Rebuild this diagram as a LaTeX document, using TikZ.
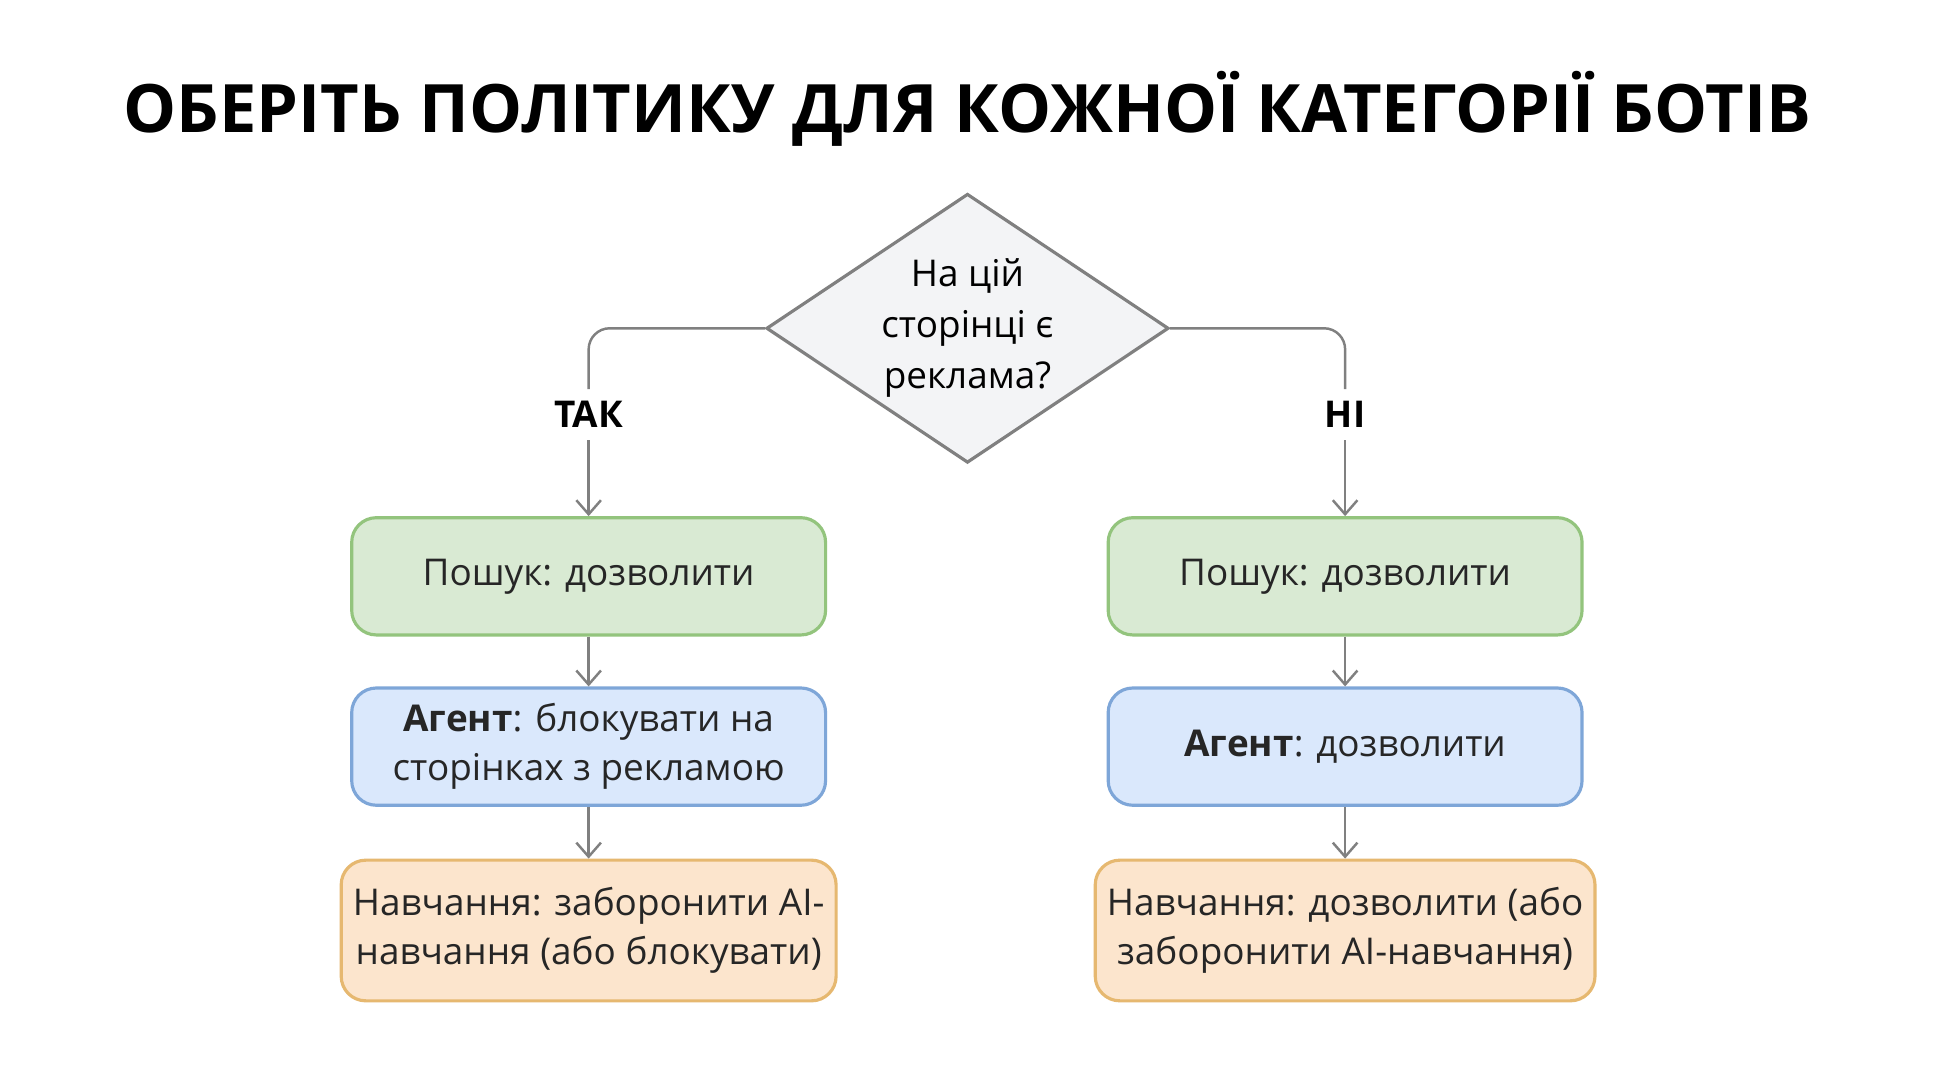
\documentclass[tikz,border=0pt]{standalone}
\usepackage{fontspec}
\setmainfont{Open Sans}
\usetikzlibrary{shapes.geometric,arrows.meta}
\definecolor{gfill}{HTML}{D9EAD3}\definecolor{gdraw}{HTML}{93C47D}
\definecolor{bfill}{HTML}{DAE8FC}\definecolor{bdraw}{HTML}{7EA6D8}
\definecolor{ofill}{HTML}{FCE5CD}\definecolor{odraw}{HTML}{E6B870}
\definecolor{dfill}{HTML}{F3F4F6}\definecolor{ln}{HTML}{808080}
\begin{document}
\begin{tikzpicture}[x=0.01234cm,y=-0.01234cm,
 box/.style={rounded corners=7pt,line width=0.9pt,minimum width=384*0.01234cm,align=center,font=\fontsize{10.5}{14}\selectfont,text=black!85},
 g/.style={box,fill=gfill,draw=gdraw,minimum height=95*0.01234cm},
 b/.style={box,fill=bfill,draw=bdraw,minimum height=95*0.01234cm},
 o/.style={box,fill=ofill,draw=odraw,minimum height=114*0.01234cm},
 arr/.style={draw=ln,line width=0.7pt,-{Straight Barb[length=4pt,width=7pt]}},
 lnk/.style={draw=ln,line width=0.7pt,rounded corners=6pt},
 lab/.style={font=\bfseries\fontsize{10.5}{12}\selectfont}]
\useasboundingbox (0,0) rectangle (1568,875);
\fill[white] (0,0) rectangle (1568,875);
\node[font=\bfseries\fontsize{19}{22}\selectfont] (t) at (784,88) {ОБЕРІТЬ ПОЛІТИКУ ДЛЯ КОЖНОЇ КАТЕГОРІЇ БОТІВ};
\node[diamond,draw=ln,fill=dfill,line width=0.9pt,minimum width=326*0.01234cm,minimum height=218*0.01234cm,inner sep=0pt,align=center,font=\fontsize{10.5}{14}\selectfont] (d) at (784,266) {};
\node[align=center,font=\fontsize{10.5}{14.5}\selectfont] at (784,266) {На цій\\сторінці є\\реклама?};
\node[lab] (tak) at (477,336) {ТАК};
\node[lab] (ni) at (1090,336) {НІ};
\node[g] (l1) at (477,467) {Пошук: дозволити};
\node[b] (l2) at (477,605) {\textbf{Агент}: блокувати на\\сторінках з рекламою};
\node[o] (l3) at (477,754) {Навчання: заборонити AI-\\навчання (або блокувати)};
\node[g] (r1) at (1090,467) {Пошук: дозволити};
\node[b] (r2) at (1090,605) {\textbf{Агент}: дозволити};
\node[o] (r3) at (1090,754) {Навчання: дозволити (або\\заборонити AI-навчання)};
\draw[lnk] (d.west) -| (tak.north);
\draw[lnk] (d.east) -| (ni.north);
\draw[arr] (tak.south) -- (l1.north);
\draw[arr] (ni.south) -- (r1.north);
\draw[arr] (l1) -- (l2);\draw[arr] (l2) -- (l3);
\draw[arr] (r1) -- (r2);\draw[arr] (r2) -- (r3);
\end{tikzpicture}
\end{document}
